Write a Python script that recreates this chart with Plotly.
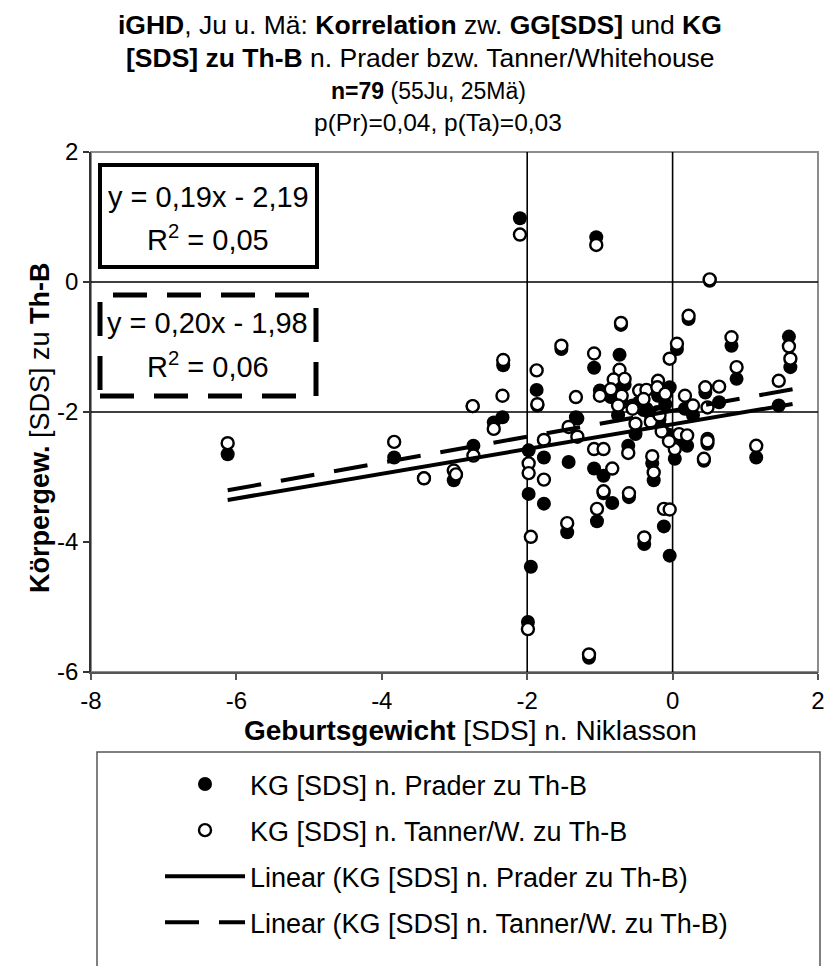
import plotly.graph_objects as go

# ---------------- data ----------------
gg_sds = [-6.12, -3.83, -3.42, -3.01, -2.98, -2.74, -2.75, -2.46, -2.34, -2.33,
          -2.10, -1.87, -1.86, -1.77, -1.98, -1.98, -1.77, -1.95, -1.99, -1.53,
          -1.43, -1.45, -1.33, -1.08, -1.05, -1.15, -1.00, -1.08, -0.95, -0.83,
          -0.95, -1.04, -0.71, -0.73, -0.81, -0.66, -0.61, -0.60, -0.51, -0.46,
          -0.39, -0.36, -0.28, -0.26, -0.20, -0.21, -0.12, -0.04, 0.03, -0.04,
          0.06, 0.09, 0.17, 0.20, 0.22, 0.43, 0.45, 0.48, 0.48, 0.51,
          0.64, 0.81, 0.88, 1.15, 1.46, 1.60, 1.62, -0.85, -0.70, -0.55,
          -0.40, -0.30, -0.18, -0.75, -0.15, -0.05, -0.10, 0.28, -1.31]
kg_prader = [-2.65, -2.70, -3.02, -3.05, -2.97, -2.52, -1.91, -2.16, -2.08, -1.28,
             0.98, -1.66, -1.90, -2.70, -2.59, -3.26, -3.41, -4.38, -5.23, -1.03,
             -2.77, -3.85, -2.08, -1.32, 0.69, -5.78, -1.67, -2.87, -2.98, -3.40,
             -3.25, -3.68, -0.66, -1.12, -1.62, -1.58, -2.52, -3.31, -2.34, -1.85,
             -4.03, -1.95, -2.79, -3.05, -1.75, -2.00, -3.76, -4.21, -2.72, -1.62,
             -1.03, -2.45, -1.95, -2.52, -0.57, -2.75, -1.70, -2.41, -2.49, 0.02,
             -1.85, -0.98, -1.49, -2.70, -1.90, -0.84, -1.31, -1.77, -1.85, -1.90,
             -1.97, -2.05, -2.12, -2.05, -2.25, -2.35, -1.88, -2.05, -2.10]
kg_tanner = [-2.48, -2.46, -3.02, -2.90, -2.96, -2.67, -1.91, -2.26, -1.75, -1.20,
             0.73, -1.36, -1.88, -2.43, -2.79, -2.94, -3.04, -3.92, -5.34, -0.98,
             -2.23, -3.71, -1.77, -1.10, 0.57, -5.73, -1.75, -2.57, -2.57, -2.87,
             -3.22, -3.49, -0.63, -1.35, -1.50, -1.49, -2.63, -3.25, -2.18, -1.67,
             -3.93, -1.66, -2.68, -2.93, -1.52, -1.62, -3.49, -3.50, -2.57, -1.18,
             -0.95, -2.34, -1.75, -2.36, -0.52, -2.72, -1.62, -1.93, -2.45, 0.04,
             -1.61, -0.85, -1.31, -2.52, -1.52, -0.99, -1.18, -1.65, -1.75, -1.95,
             -1.80, -2.15, -2.05, -1.90, -2.30, -2.45, -1.72, -1.90, -2.38]

# trend lines given in chart (slope, intercept)
trend_prader = [0.19, -2.19]
trend_tanner = [0.20, -1.98]
r2_labels = ["0,05", "0,06"]

x_ticks = [-8, -6, -4, -2, 0, 2]
y_ticks = [-6, -4, -2, 0, 2]
ref_x = [-2, 0]
ref_y = [0, -2]

names = ["KG [SDS] n. Prader zu Th-B", "KG [SDS] n. Tanner/W. zu Th-B",
         "Linear (KG [SDS] n. Prader zu Th-B)", "Linear (KG [SDS] n. Tanner/W. zu Th-B)"]

FONT = "Liberation Sans, Arial, sans-serif"

# ---------------- geometry (pixels) ----------------
W, H = 825, 966
L, R, T, B = 91, 818, 152, 672
pw, ph = R - L, B - T


def px(xp):
    return (xp - L) / pw


def py(yp):
    return (B - yp) / ph


fig = go.Figure()

fig.add_trace(go.Scatter(
    x=gg_sds, y=kg_prader, mode="markers", name=names[0], legendgroup="a",
    marker=dict(symbol="circle", size=14, color="black", line=dict(width=0)),
))
fig.add_trace(go.Scatter(
    x=gg_sds, y=kg_tanner, mode="markers", name=names[1], legendgroup="b",
    marker=dict(symbol="circle", size=12, color="white", line=dict(width=2.4, color="black")),
))

xmin = min(gg_sds)
xmax_fit = 1.65
for (m, c), nm, dash, grp in [(trend_prader, names[2], "solid", "c"),
                             (trend_tanner, names[3], "34px,20px", "d")]:
    xs = [xmin, xmax_fit]
    fig.add_trace(go.Scatter(
        x=xs, y=[m * v + c for v in xs], mode="lines", name=nm, legendgroup=grp,
        line=dict(color="black", width=4, dash=dash),
    ))

shapes = []
shapes.append(dict(type="rect", xref="paper", yref="paper", x0=0, x1=1, y0=0, y1=1,
                   line=dict(color="#8c8c8c", width=2), layer="below"))
for v in ref_x:
    shapes.append(dict(type="line", xref="x", yref="paper", x0=v, x1=v, y0=0, y1=1,
                       line=dict(color="black", width=1.6), layer="below"))
for v in ref_y:
    shapes.append(dict(type="line", xref="paper", yref="y", x0=0, x1=1, y0=v, y1=v,
                       line=dict(color="black", width=1.6), layer="below"))
# equation boxes
shapes.append(dict(type="rect", xref="paper", yref="paper",
                   x0=px(100), x1=px(317), y0=py(267), y1=py(165),
                   line=dict(color="black", width=4), fillcolor="white", layer="above"))
shapes.append(dict(type="rect", xref="paper", yref="paper",
                   x0=px(100), x1=px(316), y0=py(396), y1=py(295),
                   line=dict(color="black", width=5, dash="34px,20px"),
                   fillcolor="rgba(0,0,0,0)", layer="above"))
# legend box
LEG_TOP = 752
shapes.append(dict(type="rect", xref="paper", yref="paper",
                   x0=px(97), x1=px(820), y0=py(995), y1=py(LEG_TOP),
                   line=dict(color="#555555", width=1.5), fillcolor="white", layer="below"))

annotations = []
title_lines = [
    ("<b>iGHD</b>, Ju u. Mä: <b>Korrelation</b> zw. <b>GG[SDS]</b> und <b>KG</b>", 420, 25, 26.5),
    ("<b>[SDS] zu Th-B</b> n. Prader bzw. Tanner/Whitehouse", 420, 58, 26.5),
    ("<b>n=79</b> (55Ju, 25Mä)", 428, 91, 23),
    ("p(Pr)=0,04, p(Ta)=0,03", 438, 123, 24.5),
]
for txt, xx, yy, fs in title_lines:
    annotations.append(dict(text=txt, xref="paper", yref="paper", x=px(xx), y=py(yy),
                            xanchor="center", yanchor="middle", showarrow=False,
                            font=dict(size=fs, color="black", family=FONT)))

eq_texts = [
    ("y = %s" % ("%.2fx - %.2f" % (trend_prader[0], -trend_prader[1])).replace(".", ","), 208, 197),
    ("R<sup>2</sup> = %s" % r2_labels[0], 208, 238),
    ("y = %s" % ("%.2fx - %.2f" % (trend_tanner[0], -trend_tanner[1])).replace(".", ","), 207, 323),
    ("R<sup>2</sup> = %s" % r2_labels[1], 208, 365),
]
for txt, xx, yy in eq_texts:
    annotations.append(dict(text=txt, xref="paper", yref="paper", x=px(xx), y=py(yy),
                            xanchor="center", yanchor="middle", showarrow=False,
                            font=dict(size=29, color="black", family=FONT)))

# axis titles
annotations.append(dict(text="<b>Geburtsgewicht</b> [SDS] n. Niklasson", xref="paper", yref="paper",
                        x=px(470), y=py(730), xanchor="center", yanchor="middle", showarrow=False,
                        font=dict(size=28, color="black", family=FONT)))
annotations.append(dict(text="<b>Körpergew.</b> [SDS] zu <b>Th-B</b>", xref="paper", yref="paper",
                        x=px(40), y=py(428), xanchor="center", yanchor="middle", showarrow=False,
                        textangle=-90, font=dict(size=27, color="black", family=FONT)))

fig.update_layout(
    width=W, height=H,
    margin=dict(l=L, r=W - R, t=T, b=H - B, pad=0, autoexpand=False),
    paper_bgcolor="white", plot_bgcolor="white",
    font=dict(family=FONT, color="black"),
    showlegend=True,
    legend=dict(x=px(160), y=py(LEG_TOP + 8), xanchor="left", yanchor="top",
                bgcolor="rgba(0,0,0,0)", borderwidth=0,
                font=dict(size=27, family=FONT, color="black"),
                itemwidth=80, tracegroupgap=8, traceorder="grouped"),
    shapes=shapes, annotations=annotations,
)
fig.update_xaxes(range=[-8, 2], tickvals=x_ticks, ticktext=[str(v) for v in x_ticks],
                 showgrid=False, zeroline=False, showline=True, linecolor="#555555", linewidth=2,
                 ticks="outside", ticklen=6, tickwidth=1.5, tickcolor="#555555",
                 ticklabelstandoff=0,
                 tickfont=dict(size=24, family=FONT, color="black"))
fig.update_yaxes(range=[-6, 2], tickvals=y_ticks, ticktext=[str(v) for v in y_ticks],
                 showgrid=False, zeroline=False, showline=True, linecolor="#333333", linewidth=1.5,
                 ticks="outside", ticklen=6, tickwidth=1.5, tickcolor="#333333",
                 tickfont=dict(size=24, family=FONT, color="black"))

fig.write_html("out.html")
